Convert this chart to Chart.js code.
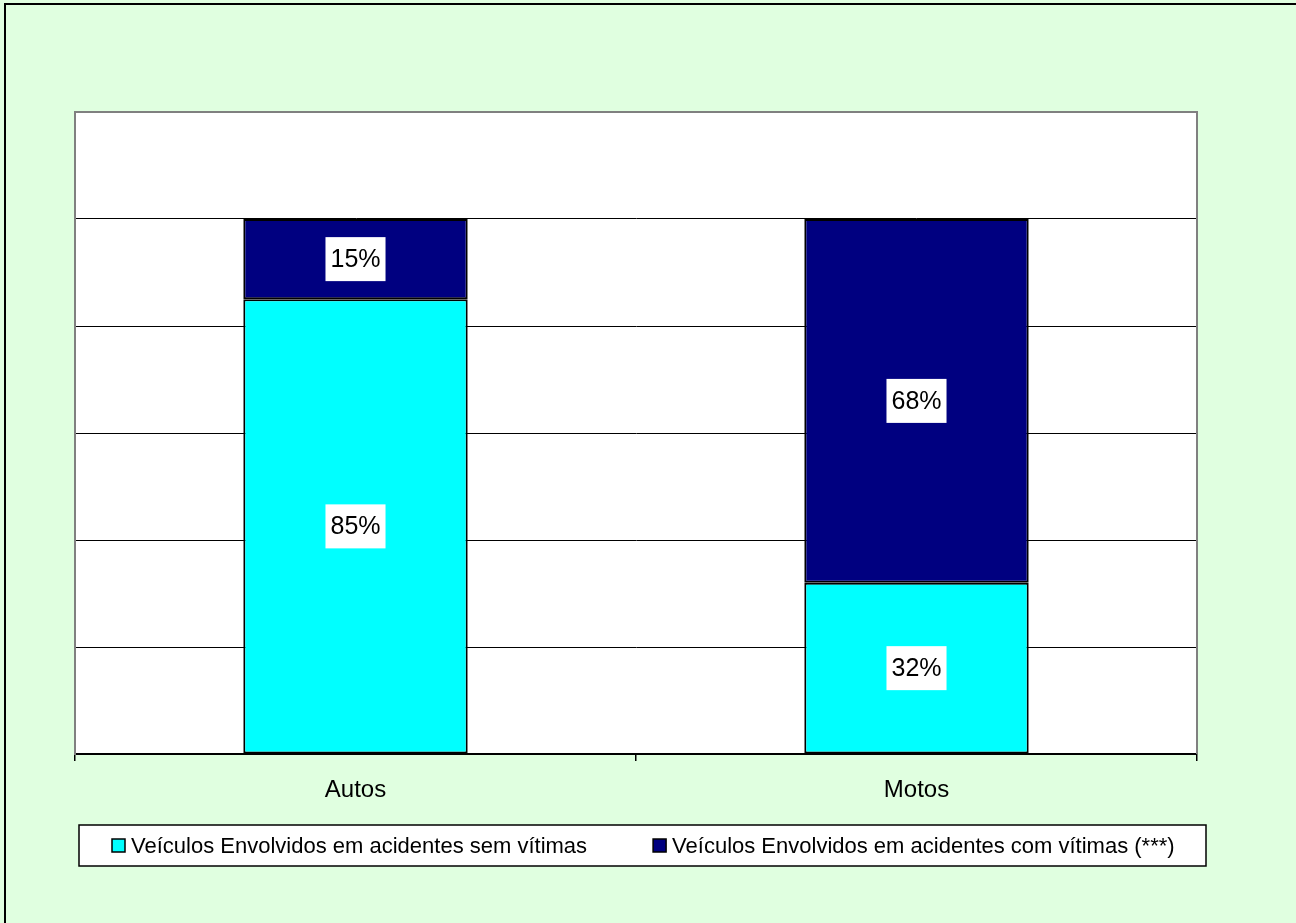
<!DOCTYPE html>
<html>
<head>
<meta charset="utf-8">
<script src="https://cdn.jsdelivr.net/npm/chart.js@4"></script>
<style>
  html, body { margin: 0; padding: 0; background: #e0ffe0; }
  #wrap { width: 1296px; height: 923px; }
</style>
</head>
<body>
<div id="wrap"><canvas id="acidentes" width="1296" height="923"></canvas></div>
<script>
const categories = ["Autos", "Motos"];
const semVitimas = [85, 32];
const comVitimas = [15, 68];
const seriesNames = [
    "Veículos Envolvidos em acidentes sem vítimas",
    "Veículos Envolvidos em acidentes com vítimas (***)"
];
const seriesColors = ["#00ffff", "#000080"];

const FAMILY = "'Liberation Sans', Arial, sans-serif";

// page frame, white plot area, gray border, value boxes and the boxed legend
const frame = {
    id: "frame",
    beforeDraw(chart) {
        const c = chart.ctx, a = chart.chartArea;
        c.save();
        c.fillStyle = "#e0ffe0";
        c.fillRect(0, 0, chart.width, chart.height);
        c.strokeStyle = "#000";
        c.lineWidth = 2;
        c.beginPath();
        c.moveTo(5, chart.height);
        c.lineTo(5, 4);
        c.lineTo(chart.width, 4);
        c.stroke();
        c.fillStyle = "#fff";
        c.fillRect(a.left, a.top, a.right - a.left, a.bottom - a.top);
        c.restore();
    },
    afterDatasetsDraw(chart) {
        const c = chart.ctx, a = chart.chartArea;
        c.save();
        c.strokeStyle = "#808080";
        c.lineWidth = 2;
        c.beginPath();
        c.moveTo(a.left, a.bottom);
        c.lineTo(a.left, a.top);
        c.lineTo(a.right, a.top);
        c.lineTo(a.right, a.bottom);
        c.stroke();

        // value labels
        c.font = "25px " + FAMILY;
        c.textAlign = "center";
        c.textBaseline = "middle";
        chart.data.datasets.forEach((ds, i) => {
            chart.getDatasetMeta(i).data.forEach((bar, j) => {
                const txt = ds.data[j] + "%";
                const y = (bar.y + bar.base) / 2;
                const w = c.measureText(txt).width + 10;
                c.fillStyle = "#fff";
                c.fillRect(bar.x - w / 2, y - 22, w, 44);
                c.fillStyle = "#000";
                c.fillText(txt, bar.x, y + 1);
            });
        });

        // legend
        const lx = 79, ly = 825, lw = 1127, lh = 41;
        c.font = "22px " + FAMILY;
        c.fillStyle = "#fff";
        c.fillRect(lx, ly, lw, lh);
        c.strokeStyle = "#000";
        c.lineWidth = 1.5;
        c.strokeRect(lx, ly, lw, lh);
        c.textAlign = "left";
        let x = 112;
        chart.data.datasets.forEach(ds => {
            c.fillStyle = ds.backgroundColor;
            c.fillRect(x, ly + 14, 13, 13);
            c.strokeStyle = "#000";
            c.strokeRect(x, ly + 14, 13, 13);
            c.fillStyle = "#000";
            c.fillText(ds.label, x + 19, ly + lh / 2 + 1);
            x += 19 + c.measureText(ds.label).width + 66;
        });
        c.restore();
    }
};

new Chart(document.getElementById("acidentes"), {
    type: "bar",
    data: {
        labels: categories,
        datasets: [
            { label: seriesNames[0], data: semVitimas, backgroundColor: seriesColors[0],
              borderColor: "#000", borderWidth: 2, borderSkipped: false,
              barPercentage: 0.4, categoryPercentage: 1 },
            { label: seriesNames[1], data: comVitimas, backgroundColor: seriesColors[1],
              borderColor: "#000", borderWidth: 2, borderSkipped: false,
              barPercentage: 0.4, categoryPercentage: 1 }
        ]
    },
    options: {
        responsive: false,
        animation: false,
        layout: { padding: { left: 75, top: 112, right: 99, bottom: 109 } },
        plugins: { legend: { display: false }, tooltip: { enabled: false } },
        scales: {
            x: {
                stacked: true,
                grid: { drawOnChartArea: false, offset: true, color: "#000", tickLength: 7, lineWidth: 1.5 },
                border: { color: "#000", width: 2 },
                ticks: { color: "#000", font: { family: FAMILY, size: 24 }, padding: 15 },
                afterFit: s => { s.height = 60; }
            },
            y: {
                stacked: true,
                min: 0, max: 120,
                ticks: { stepSize: 20, display: false },
                grid: {
                    drawTicks: false,
                    color: ctx => (ctx.tick && (ctx.tick.value === 0 || ctx.tick.value === 120)) ? "rgba(0,0,0,0)" : "#000",
                    lineWidth: 1
                },
                border: { color: "#808080", width: 2 },
                afterFit: s => { s.width = 0; }
            }
        }
    },
    plugins: [frame]
});
</script>
</body>
</html>
